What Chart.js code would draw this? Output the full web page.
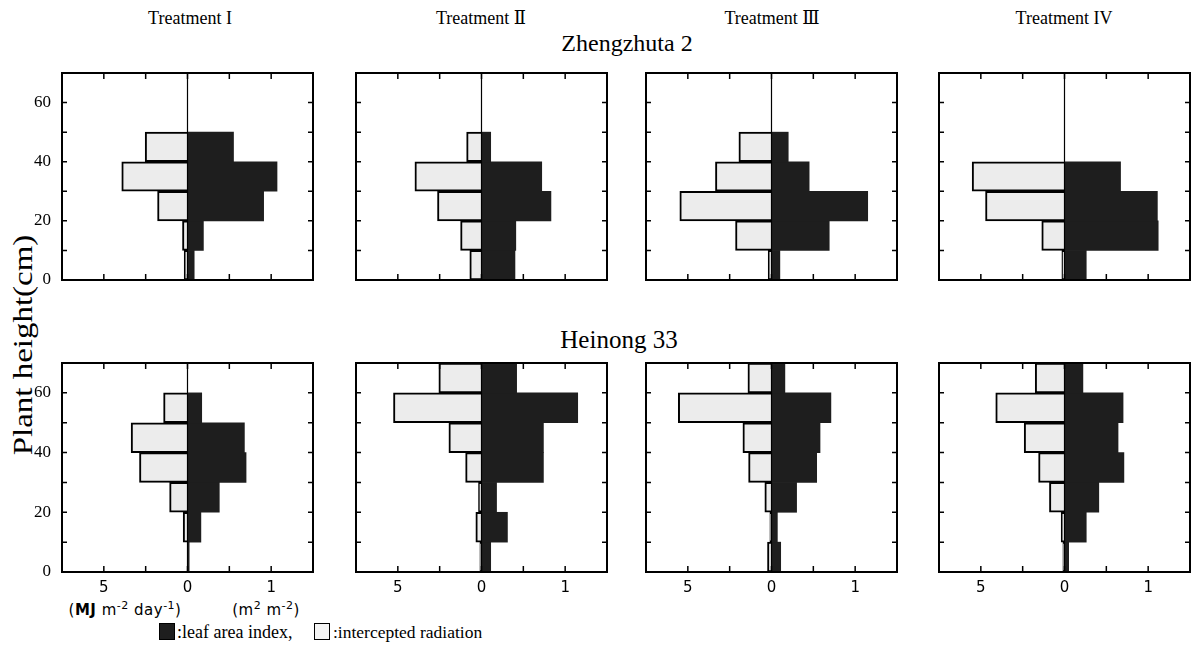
<!DOCTYPE html>
<html>
<head>
<meta charset="utf-8">
<script src="https://cdn.jsdelivr.net/npm/chart.js@4.4.1/dist/chart.umd.min.js"></script>
<style>
  body { margin: 0; width: 1191px; height: 661px; position: relative; overflow: hidden; background: #fff; }
  .box { position: absolute; }
  .txt { position: absolute; transform: translate(-50%, -50%); white-space: nowrap; color: #000; font-family: 'Liberation Serif', 'DejaVu Serif', serif; }
  .lg { position: absolute; transform: translateY(-50%); white-space: nowrap; color: #000; font-family: 'Liberation Serif', 'DejaVu Serif', serif; font-size: 18px; }
  .unit { position: absolute; transform: translate(-50%, -50%); white-space: nowrap; font-family: 'DejaVu Sans', sans-serif; font-size: 15px; letter-spacing: 0.5px; }
  .unit sup { font-size: 11px; }
  .swatch { position: absolute; width: 16px; height: 17px; box-sizing: border-box; border: 1.5px solid #000; }
</style>
</head>
<body>
<div class="txt" style="left:190px; top:18px; font-size:18px;">Treatment I</div>
<div class="txt" style="left:481px; top:18px; font-size:18px;">Treatment Ⅱ</div>
<div class="txt" style="left:772px; top:18px; font-size:18px;">Treatment Ⅲ</div>
<div class="txt" style="left:1064px; top:18px; font-size:18px;">Treatment IV</div>
<div class="txt" style="left:627px; top:43px; font-size:24px;">Zhengzhuta 2</div>
<div class="txt" style="left:619px; top:340px; font-size:25px;">Heinong 33</div>
<div class="txt" style="left:23px; top:345px; font-size:27px; transform: translate(-50%, -50%) rotate(-90deg) scaleX(1.22);">Plant height(cm)</div>
<div class="unit" style="left:125px; top:609px;">(<b>MJ</b> m<sup>-2</sup> day<sup>-1</sup>)</div>
<div class="unit" style="left:266px; top:609px;">(m<sup>2</sup> m<sup>-2</sup>)</div>
<div class="swatch" style="left:159px; top:623px; background:#1e1e1e;"></div>
<div class="lg" style="left:177px; top:632px;">:leaf area index,</div>
<div class="swatch" style="left:314px; top:623px; background:#f4f4f4;"></div>
<div class="lg" style="left:333px; top:632px; font-size:17.5px;">:intercepted radiation</div>

<script>
'use strict'

// layer centres (cm), each bar covers 10 cm
const heights = [5, 15, 25, 35, 45, 55, 65];
const treatments = ['Treatment I', 'Treatment Ⅱ', 'Treatment Ⅲ', 'Treatment IV'];

// leaf area index (m2 m-2), one row per treatment, layers 0-10 ... 60-70 cm
const zhengLai = [
    [0.08, 0.19, 0.91, 1.07, 0.55, 0, 0],
    [0.40, 0.41, 0.83, 0.72, 0.11, 0, 0],
    [0.10, 0.69, 1.15, 0.45, 0.20, 0, 0],
    [0.26, 1.12, 1.11, 0.67, 0, 0, 0]
];
// intercepted radiation (MJ m-2 day-1)
const zhengRad = [
    [0.20, 0.30, 1.79, 3.93, 2.53, 0, 0],
    [0.70, 1.25, 2.63, 3.98, 0.89, 0, 0],
    [0.20, 2.15, 5.48, 3.35, 1.95, 0, 0],
    [0.16, 1.36, 4.72, 5.52, 0, 0, 0]
];
const heiLai = [
    [0.02, 0.16, 0.38, 0.70, 0.68, 0.17, 0],
    [0.11, 0.31, 0.18, 0.74, 0.74, 1.15, 0.42],
    [0.11, 0.07, 0.30, 0.54, 0.58, 0.71, 0.16],
    [0.05, 0.26, 0.41, 0.71, 0.64, 0.70, 0.22]
];
const heiRad = [
    [0, 0.26, 1.07, 2.87, 3.37, 1.43, 0],
    [0.10, 0.34, 0.18, 0.95, 1.95, 5.26, 2.55],
    [0.24, 0.10, 0.40, 1.37, 1.71, 5.57, 1.41],
    [0.10, 0.20, 0.90, 1.55, 2.41, 4.11, 1.75]
];

const laiMax = 1.5;
const radMax = 7.5;
const heightMax = 70;

// panel frames in the page
const colLeft = [62, 356, 646, 939];
const frameW = 251;
const rowTop = [73, 363];
const rowH = [207, 209];
const axisW = 40;
const axisH = 30;
const pad = 3;

const framePlugin = {
    id: 'framePlugin',
    afterDatasetsDraw(chart){
        const ctx = chart.ctx;
        const a = chart.chartArea;
        const x = chart.scales.x;
        const y = chart.scales.y;
        ctx.save();
        ctx.strokeStyle = '#000';
        ctx.lineWidth = 1.2;
        //zero line
        let x0 = x.getPixelForValue(0);
        ctx.beginPath();
        ctx.moveTo(x0, a.top);
        ctx.lineTo(x0, a.bottom);
        ctx.stroke();
        //inward ticks
        ctx.lineWidth = 1.5;
        ctx.beginPath();
        for (let t of x.ticks){
            if (t.value <= x.min || t.value >= x.max) continue;
            let px = x.getPixelForValue(t.value);
            ctx.moveTo(px, a.top);
            ctx.lineTo(px, a.top + 6);
            ctx.moveTo(px, a.bottom);
            ctx.lineTo(px, a.bottom - 6);
        }
        for (let t of y.ticks){
            if (t.value <= y.min || t.value >= y.max) continue;
            let py = y.getPixelForValue(t.value);
            ctx.moveTo(a.left, py);
            ctx.lineTo(a.left + 5, py);
            ctx.moveTo(a.right, py);
            ctx.lineTo(a.right - 5, py);
        }
        ctx.stroke();
        ctx.lineWidth = 2;
        ctx.strokeRect(a.left, a.top, a.right - a.left, a.bottom - a.top);
        ctx.restore();
    }
};

function makePanel(row, col, lai, rad){
    let box = document.createElement('div');
    box.className = 'box';
    box.style.left = (colLeft[col] - axisW) + 'px';
    box.style.top = (rowTop[row] - pad) + 'px';
    box.style.width = (frameW + axisW + pad) + 'px';
    box.style.height = (rowH[row] + axisH + pad) + 'px';
    let canvas = document.createElement('canvas');
    box.appendChild(canvas);
    document.body.appendChild(box);

    const data = {
        datasets: [{
            label: 'leaf area index',
            data: heights.map((h, i) => ({x: lai[i], y: h})),
            xAxisID: 'x',
            stack: 'layer',
            backgroundColor: '#1e1e1e',
            borderWidth: 0,
            barPercentage: 1,
            categoryPercentage: 1
        },
        {
            label: 'intercepted radiation',
            data: heights.map((h, i) => ({x: rad[i], y: h})),
            xAxisID: 'x2',
            stack: 'layer',
            backgroundColor: '#ececec',
            borderColor: '#000',
            borderWidth: 2,
            barPercentage: 1,
            categoryPercentage: 1
        }]
    };

    const config = {
        type: 'bar',
        data: data,
        plugins: [framePlugin],
        options: {
            indexAxis: 'y',
            responsive: true,
            maintainAspectRatio: false,
            animation: false,
            layout: { padding: { top: pad, right: pad, left: 0, bottom: 0 } },
            plugins: { legend: { display: false }, tooltip: { enabled: false } },
            scales: {
                x: {
                    type: 'linear',
                    min: -laiMax,
                    max: laiMax,
                    stacked: false,
                    grid: { display: false, drawTicks: false },
                    border: { display: false },
                    ticks: {
                        display: row === 1,
                        stepSize: 0.5,
                        padding: 7,
                        color: '#000',
                        font: { family: 'DejaVu Sans', size: 15 },
                        callback: function(v){
                            if (Math.abs(v - Math.round(v)) > 1e-6 || Math.abs(v) >= laiMax) return '';
                            // left half reads as radiation
                            return v < 0 ? String(Math.round(-v * radMax / laiMax)) : String(Math.round(v));
                        }
                    },
                    afterFit: function(scale){
                        scale.height = axisH;
                        scale.paddingLeft = 0;
                        scale.paddingRight = 0;
                    }
                },
                x2: {
                    type: 'linear',
                    display: false,
                    reverse: true,
                    min: -radMax,
                    max: radMax,
                    stacked: false
                },
                y: {
                    type: 'linear',
                    min: 0,
                    max: heightMax,
                    stacked: true,
                    offset: false,
                    grid: { display: false, drawTicks: false, offset: false },
                    border: { display: false },
                    ticks: {
                        display: col === 0,
                        stepSize: 10,
                        padding: 11,
                        color: '#000',
                        font: { family: 'Liberation Sans Narrow', size: 17 },
                        callback: function(v){
                            return (v % 20 === 0 && v < heightMax) ? String(v) : '';
                        }
                    },
                    afterFit: function(scale){
                        scale.width = axisW;
                        scale.paddingTop = 0;
                        scale.paddingBottom = 0;
                    }
                }
            }
        }
    };
    return new Chart(canvas, config);
}

for (let c = 0; c < treatments.length; c++){
    makePanel(0, c, zhengLai[c], zhengRad[c]);
    makePanel(1, c, heiLai[c], heiRad[c]);
}
</script>
</body>
</html>
